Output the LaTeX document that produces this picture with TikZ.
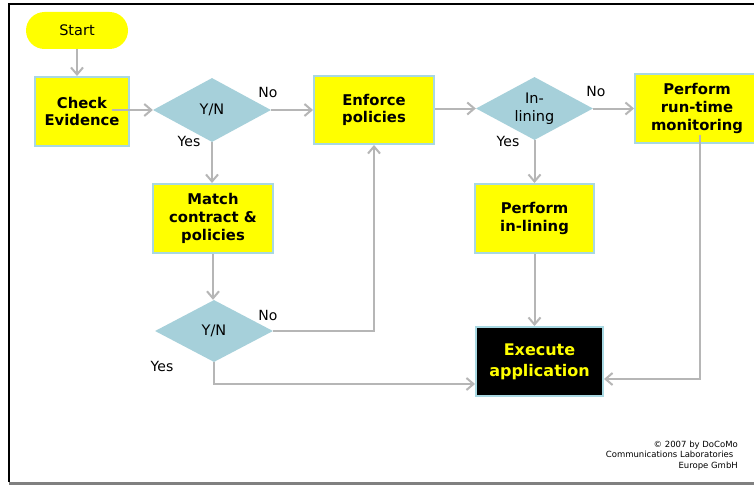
\documentclass[tikz,border=0pt]{standalone}
\usepackage{fontspec}
\setmainfont{DejaVu Sans}
\usetikzlibrary{arrows.meta,shapes.geometric}
\definecolor{boxyellow}{HTML}{FFFF00}
\definecolor{boxedge}{HTML}{A8D8E2}
\definecolor{decfill}{HTML}{A6D0DA}
\definecolor{wire}{HTML}{B6B6B6}
\definecolor{footgray}{HTML}{808080}
\tikzset{
  stepbox/.style={draw=boxedge, line width=2pt, fill=boxyellow, align=center,
    inner sep=0pt, font=\fontsize{14.8}{17.8}\selectfont\bfseries},
  decision/.style={diamond, aspect=1.85, fill=decfill, inner sep=0pt, align=center,
    font=\fontsize{14.5}{18}\selectfont},
  lbl/.style={font=\fontsize{14}{16}\selectfont, inner sep=0pt},
  wirestyle/.style={draw=wire, line width=2pt},
  flow/.style={wirestyle, -{Straight Barb[length=7pt,width=12pt]}},
}
\begin{document}
\begin{tikzpicture}[x=1pt, y=-1pt]
  \clip (0,0) rectangle (754,487);
  \fill[white] (0,0) rectangle (754,487);
  % page frame
  \draw[black, line width=1.2pt] (9,482) -- (9,4) -- (754,4);
  \draw[footgray, line width=3pt] (9,483) -- (754,483);

  % terminals and steps
  \node[fill=boxyellow, rounded corners=18.5pt, minimum width=102pt, minimum height=37pt,
        inner sep=0pt, font=\fontsize{14.5}{17}\selectfont] (start) at (77,30.5) {Start};
  \node[stepbox, minimum width=94pt, minimum height=69pt] (check) at (82,111.5) {Check\\Evidence};
  \node[stepbox, minimum width=120pt, minimum height=68pt] (enforce) at (374,110) {Enforce\\policies};
  \node[stepbox, minimum width=120pt, minimum height=69pt] (match) at (213,218.5) {Match\\contract \&\\policies};
  \node[stepbox, minimum width=119pt, minimum height=69pt] (inline) at (534.5,218.5) {Perform\\in-lining};
  \node[stepbox, minimum width=124pt, minimum height=69pt] (monitor) at (697,108.5) {Perform\\run-time\\monitoring};
  \node[stepbox, fill=black, text=boxyellow, minimum width=127pt, minimum height=69pt,
        font=\fontsize{16}{21}\selectfont\bfseries] (exec) at (539.5,361.5) {Execute\\application};

  % decisions
  \node[decision, minimum width=118pt, minimum height=64pt] (d1) at (212,110) {Y/N};
  \node[decision, minimum width=118pt, minimum height=62pt] (d2) at (214,331) {Y/N};
  \node[decision, minimum width=117pt, minimum height=63pt] (d3) at (534.5,108.5) {In-\\lining};

  % branch labels
  \node[lbl] (d1no)  at (268,92)  {No};
  \node[lbl] (d1yes) at (189,141) {Yes};
  \node[lbl] (d2no)  at (268,315) {No};
  \node[lbl] (d2yes) at (162,366) {Yes};
  \node[lbl] (d3no)  at (596,91)  {No};
  \node[lbl] (d3yes) at (508,141) {Yes};

  % connector end points
  \coordinate (checkout) at (112,110);
  \coordinate (monout) at (700,135);
  \coordinate (execin) at ([yshift=-22.5pt]exec.west);
  \coordinate (execright) at ([yshift=-17.5pt]exec.east);

  % connectors
  \draw[flow] (start.south) -- (start.south |- check.north);
  \draw[flow] (checkout) -- (d1.west);
  \draw[flow] (d1.east) -- (enforce.west);
  \draw[flow] (d1.south) -- (d1.south |- match.north);
  \draw[flow] (match.south) -- (match.south |- d2.north);
  \draw[flow] (d2.east) -| (enforce.south);
  \draw[flow] (d2.south) |- (execin);
  \draw[flow] (enforce.east |- d3.west) -- (d3.west);
  \draw[flow] (d3.east) -- (monitor.west);
  \draw[flow] (d3.south) -- (d3.south |- inline.north);
  \draw[flow] (inline.south) -- (inline.south |- exec.north);
  \draw[flow] (monout) |- (execright);

  % copyright note
  \node[anchor=east, align=right, inner sep=0pt, font=\fontsize{8.5}{10.5}\selectfont] (copy)
    at (738,455.5) {© 2007 by DoCoMo\\Communications Laboratories\rule{4.5pt}{0pt}\\Europe GmbH};
\end{tikzpicture}
\end{document}
